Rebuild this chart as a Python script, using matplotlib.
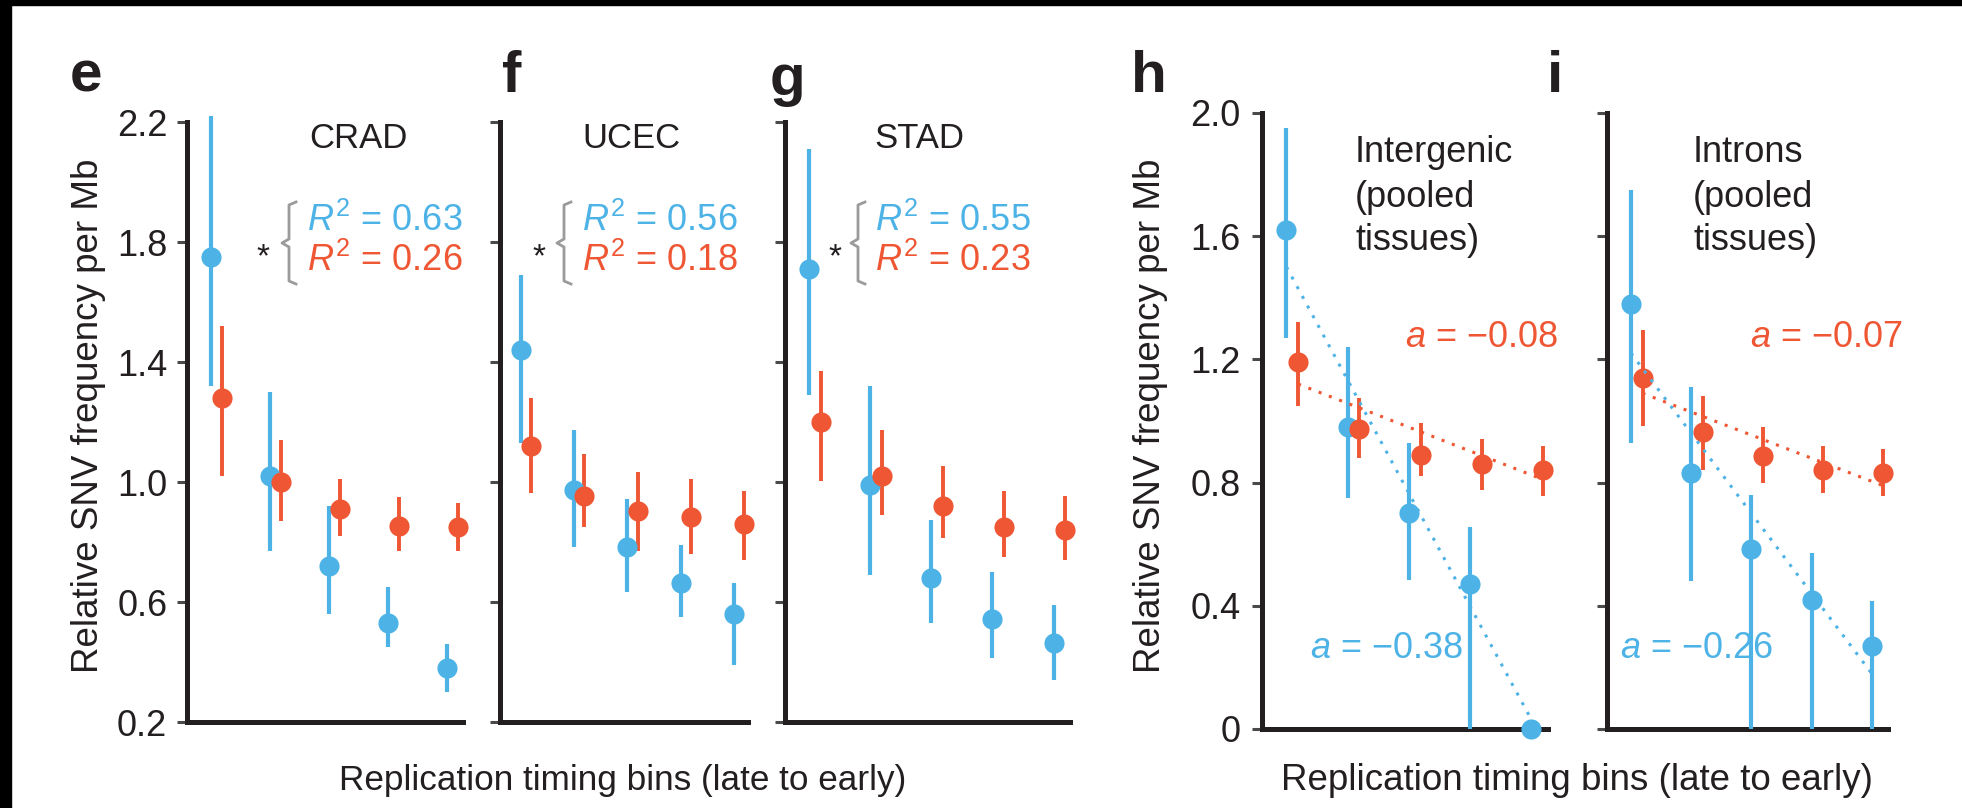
import numpy as np
import matplotlib
matplotlib.use("Agg")
import matplotlib.pyplot as plt
from matplotlib.lines import Line2D
from matplotlib.patches import Rectangle

# --- Figure geometry (pixels of the reference image) ---
W, H = 1962, 808
BLUE = '#4db3e6'
RED = '#ef5633'
INK = '#231f20'
BRACE_GREY = '#9b9b9b'

plt.rcParams['font.family'] = ['Liberation Sans', 'DejaVu Sans']
plt.rcParams['mathtext.fontset'] = 'custom'
plt.rcParams['mathtext.rm'] = 'Liberation Sans'
plt.rcParams['mathtext.it'] = 'Liberation Sans:italic'

# --- Data: value, lower and upper end of the bar ---
bins = np.array([1, 2, 3, 4, 5])

# e: CRAD
crad_blue = [1.75, 1.02, 0.72, 0.53, 0.38]
crad_blue_lo = [1.32, 0.77, 0.56, 0.45, 0.30]
crad_blue_hi = [2.22, 1.30, 0.92, 0.65, 0.46]
crad_red = [1.28, 1.00, 0.91, 0.855, 0.85]
crad_red_lo = [1.02, 0.87, 0.82, 0.77, 0.77]
crad_red_hi = [1.52, 1.14, 1.01, 0.95, 0.93]

# f: UCEC
ucec_blue = [1.44, 0.975, 0.785, 0.665, 0.56]
ucec_blue_lo = [1.13, 0.785, 0.635, 0.55, 0.39]
ucec_blue_hi = [1.69, 1.175, 0.945, 0.79, 0.665]
ucec_red = [1.12, 0.955, 0.905, 0.885, 0.86]
ucec_red_lo = [0.965, 0.85, 0.77, 0.76, 0.74]
ucec_red_hi = [1.28, 1.095, 1.035, 1.01, 0.97]

# g: STAD
stad_blue = [1.71, 0.99, 0.68, 0.545, 0.465]
stad_blue_lo = [1.29, 0.69, 0.53, 0.415, 0.34]
stad_blue_hi = [2.11, 1.32, 0.875, 0.70, 0.59]
stad_red = [1.20, 1.02, 0.92, 0.85, 0.84]
stad_red_lo = [1.005, 0.89, 0.815, 0.75, 0.74]
stad_red_hi = [1.37, 1.175, 1.055, 0.97, 0.955]

# h: intergenic (pooled tissues)
inter_blue = [1.62, 0.98, 0.70, 0.47, 0.0]
inter_blue_lo = [1.27, 0.75, 0.485, 0.0, 0.0]
inter_blue_hi = [1.95, 1.24, 0.93, 0.655, 0.0]
inter_red = [1.19, 0.975, 0.89, 0.86, 0.84]
inter_red_lo = [1.05, 0.88, 0.82, 0.775, 0.755]
inter_red_hi = [1.32, 1.075, 0.995, 0.94, 0.92]
inter_blue_fit = [1.50, 0.03]   # fit line value at first and last bin
inter_red_fit = [1.12, 0.81]

# i: introns (pooled tissues)
intron_blue = [1.38, 0.83, 0.585, 0.42, 0.27]
intron_blue_lo = [0.93, 0.48, 0.0, 0.0, 0.0]
intron_blue_hi = [1.75, 1.11, 0.76, 0.57, 0.415]
intron_red = [1.14, 0.965, 0.885, 0.84, 0.83]
intron_red_lo = [0.985, 0.84, 0.80, 0.765, 0.755]
intron_red_hi = [1.295, 1.08, 0.98, 0.92, 0.91]
intron_blue_fit = [1.22, 0.18]
intron_red_fit = [1.09, 0.79]

left_ticks = [0.2, 0.6, 1.0, 1.4, 1.8, 2.2]
left_ticklabels = ['0.2', '0.6', '1.0', '1.4', '1.8', '2.2']
right_ticks = [0, 0.4, 0.8, 1.2, 1.6, 2.0]
right_ticklabels = ['0', '0.4', '0.8', '1.2', '1.6', '2.0']

RED_SHIFT = 0.19
FS = 26


def px(x, y):
    """Reference pixel -> figure fraction."""
    return x / W, 1 - y / H


def add_axes(fig, left, width, top, bottom):
    return fig.add_axes([left / W, 1 - bottom / H, width / W, (bottom - top) / H])


def style_axes(ax, ylim, ticks, labels, pad):
    ax.set_xlim(0.6, 5.27)
    ax.set_ylim(*ylim)
    ax.patch.set_visible(False)
    for side in ('top', 'right'):
        ax.spines[side].set_visible(False)
    for side in ('left', 'bottom'):
        ax.spines[side].set_linewidth(3.6)
        ax.spines[side].set_color(INK)
        ax.spines[side].set_capstyle('projecting')
    ax.set_xticks([])
    ax.set_yticks(ticks)
    ax.set_yticklabels(labels if labels else [])
    ax.tick_params(axis='y', direction='out', length=7, width=2.2, color='#4a4a4a',
                   pad=pad, labelsize=FS, labelcolor=INK)


def draw_series(ax, x, mid, lo, hi, color, lw):
    mid, lo, hi = np.asarray(mid), np.asarray(lo), np.asarray(hi)
    cont = ax.errorbar(x, mid, yerr=[mid - lo, hi - mid], fmt='o', color=color,
                       ms=14.5, mew=0, elinewidth=lw, capsize=0, zorder=3)
    for art in cont.get_children():
        art.set_clip_on(False)


def draw_fit(ax, x, ends, color):
    ax.plot([x[0], x[-1]], ends, linestyle=(0, (1, 2.6)), lw=2.2, color=color,
            clip_on=False, zorder=4, solid_capstyle='butt', dash_capstyle='butt')


def draw_brace(fig, xv, yc):
    # curly bracket drawn in reference pixels: hooks to the right, nub to the left
    pts = [(xv + 8, yc - 41), (xv + 1, yc - 38), (xv + 1, yc - 4), (xv - 6, yc),
           (xv + 1, yc + 4), (xv + 1, yc + 38), (xv + 8, yc + 41)]
    xs = [px(a, b)[0] for a, b in pts]
    ys = [px(a, b)[1] for a, b in pts]
    fig.add_artist(Line2D(xs, ys, color=BRACE_GREY, lw=2.0, transform=fig.transFigure))


fig = plt.figure(figsize=(W / 100, H / 100), dpi=100)

# frame edges of the scanned figure
fig.add_artist(Rectangle((0, 1 - 5 / H), 1, 5 / H, transform=fig.transFigure,
                         color='black', zorder=0))
fig.add_artist(Rectangle((0, 0), 11 / W, 1, transform=fig.transFigure,
                         color='black', zorder=0))

# --- left group: tissues e-g ---
left_panels = [
    dict(letter='e', lx=70, ly=92, rect=(187, 276), title='CRAD', tx=358,
         blue=(crad_blue, crad_blue_lo, crad_blue_hi), red=(crad_red, crad_red_lo, crad_red_hi),
         r2=('0.63', '0.26'), star=263, brace=288, text_x=307, labels=left_ticklabels),
    dict(letter='f', lx=502, ly=92, rect=(500, 248), title='UCEC', tx=631,
         blue=(ucec_blue, ucec_blue_lo, ucec_blue_hi), red=(ucec_red, ucec_red_lo, ucec_red_hi),
         r2=('0.56', '0.18'), star=539, brace=563, text_x=582, labels=None),
    dict(letter='g', lx=770, ly=95, rect=(785, 285), title='STAD', tx=919,
         blue=(stad_blue, stad_blue_lo, stad_blue_hi), red=(stad_red, stad_red_lo, stad_red_hi),
         r2=('0.55', '0.23'), star=835, brace=857, text_x=875, labels=None),
]

for p in left_panels:
    ax = add_axes(fig, p['rect'][0], p['rect'][1], 122, 722)
    style_axes(ax, (0.2, 2.2), left_ticks, p['labels'], 7.2)
    draw_series(ax, bins, *p['blue'], BLUE, 3.0)
    draw_series(ax, bins + RED_SHIFT, *p['red'], RED, 2.8)

    fig.text(*px(p['lx'], p['ly']), p['letter'], fontsize=42, fontweight='bold',
             color=INK, ha='left', va='baseline')
    fig.text(*px(p['tx'], 148), p['title'], fontsize=25, color=INK,
             ha='center', va='baseline')
    fig.text(*px(p['star'], 266), '*', fontsize=24, color=INK, ha='center', va='baseline')
    draw_brace(fig, p['brace'], 243)
    fig.text(*px(p['text_x'], 231), r'$R^2$ = ' + p['r2'][0], fontsize=FS, color=BLUE,
             ha='left', va='baseline')
    fig.text(*px(p['text_x'], 271), r'$R^2$ = ' + p['r2'][1], fontsize=FS, color=RED,
             ha='left', va='baseline')

# --- right group: genomic regions h-i ---
right_panels = [
    dict(letter='h', lx=1131, ly=92, rect=(1262, 286), region='Intergenic', rx=1355,
         blue=(inter_blue, inter_blue_lo, inter_blue_hi), red=(inter_red, inter_red_lo, inter_red_hi),
         fits=(inter_blue_fit, inter_red_fit), a_red=('\u22120.08', 1405), a_blue=('\u22120.38', 1310),
         labels=right_ticklabels),
    dict(letter='i', lx=1547, ly=92, rect=(1607, 281), region='Introns', rx=1693,
         blue=(intron_blue, intron_blue_lo, intron_blue_hi), red=(intron_red, intron_red_lo, intron_red_hi),
         fits=(intron_blue_fit, intron_red_fit), a_red=('\u22120.07', 1750), a_blue=('\u22120.26', 1620),
         labels=None),
]

for p in right_panels:
    ax = add_axes(fig, p['rect'][0], p['rect'][1], 113, 729)
    style_axes(ax, (0, 2.0), right_ticks, p['labels'], 8.6)
    draw_series(ax, bins, *p['blue'], BLUE, 3.0)
    draw_series(ax, bins + RED_SHIFT, *p['red'], RED, 2.8)
    draw_fit(ax, bins, p['fits'][0], BLUE)
    draw_fit(ax, bins + RED_SHIFT, p['fits'][1], RED)

    fig.text(*px(p['lx'], p['ly']), p['letter'], fontsize=42, fontweight='bold',
             color=INK, ha='left', va='baseline')
    for line, yb in zip([p['region'], '(pooled', 'tissues)'], [162, 207, 250]):
        fig.text(*px(p['rx'], yb), line, fontsize=FS, color=INK, ha='left', va='baseline')
    fig.text(*px(p['a_red'][1], 347), r'$a$ = ' + p['a_red'][0], fontsize=FS, color=RED,
             ha='left', va='baseline')
    fig.text(*px(p['a_blue'][1], 658), r'$a$ = ' + p['a_blue'][0], fontsize=FS, color=BLUE,
             ha='left', va='baseline')

# shared axis labels
for xb in (98, 1160):
    fig.text(*px(xb, 416), 'Relative SNV frequency per Mb', fontsize=26.5, color=INK,
             rotation=90, rotation_mode='anchor', ha='center', va='baseline')
fig.text(*px(623, 790), 'Replication timing bins (late to early)', fontsize=25.3,
         color=INK, ha='center', va='baseline')
fig.text(*px(1577, 790), 'Replication timing bins (late to early)', fontsize=26.5,
         color=INK, ha='center', va='baseline')

fig.savefig('out.png', dpi=100)
